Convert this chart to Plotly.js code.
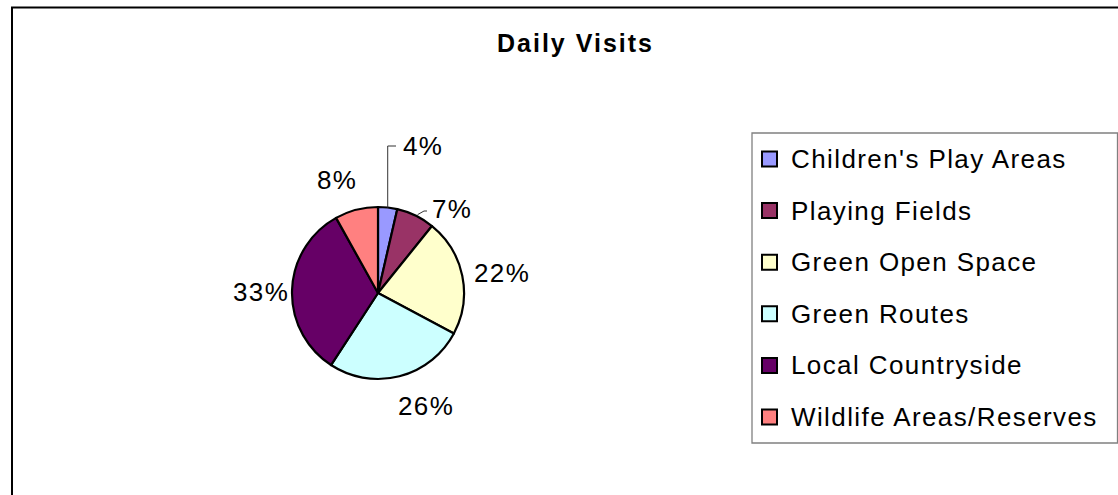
<!DOCTYPE html>
<html>
<head>
<meta charset="utf-8">
<script src="https://cdn.plot.ly/plotly-3.0.1.min.js"></script>
<style>
  body { margin: 0; padding: 0; background: #fff; }
  #chart { width: 1118px; height: 495px; }
  .gtitle { letter-spacing: 2px; }
  .annotation-text { letter-spacing: 1.4px; }
</style>
</head>
<body>
<div id="chart"></div>
<script>
// ---- data ----
const categories = ["Children's Play Areas", "Playing Fields", "Green Open Space", "Green Routes", "Local Countryside", "Wildlife Areas/Reserves"];
const visits = [3.6, 7.2, 22.0, 26.4, 32.7, 8.1];
const sliceColors = ["#9999FF", "#993366", "#FFFFCC", "#CCFFFF", "#660066", "#FF8080"];
const chartTitle = "Daily Visits";

// ---- layout constants (pixels) ----
const W = 1118, H = 495;
const px = x => x / W;
const py = y => 1 - y / H;
const FONT = "Liberation Sans, Arial, sans-serif";
const pieCx = 378, pieCy = 293, pieR = 86;
// label centres as placed in the original chart (pixels)
const labelPos = [[423, 146], [452, 209], [502, 273], [426, 406], [261, 292], [337, 180]];
const hasLeader = [true, true, false, false, false, false];

const total = visits.reduce((a, b) => a + b, 0);

const trace = {
  type: 'pie',
  labels: categories,
  values: visits,
  sort: false,
  direction: 'clockwise',
  rotation: 0,
  marker: { colors: sliceColors, line: { color: '#000000', width: 2.2 } },
  textinfo: 'none',
  domain: { x: [px(pieCx - pieR), px(pieCx + pieR)], y: [py(pieCy + pieR), py(pieCy - pieR)] },
  showlegend: false,
  hoverinfo: 'label+percent'
};

const shapes = [
  // outer chart frame (right/bottom edges fall outside the picture)
  { type: 'rect', xref: 'paper', yref: 'paper', x0: px(12), x1: 1.05, y0: -0.05, y1: py(7.5),
    line: { color: '#000000', width: 2 }, fillcolor: 'rgba(0,0,0,0)', layer: 'below' },
  // legend box
  { type: 'rect', xref: 'paper', yref: 'paper', x0: px(752), x1: px(1117.5), y0: py(443), y1: py(133),
    line: { color: '#808080', width: 1.3 }, fillcolor: 'rgba(0,0,0,0)' }
];
const annotations = [];

// percentage labels + leader lines, computed from the values
let cum = 0;
visits.forEach((v, i) => {
  const mid = (cum + v / 2) / total * 2 * Math.PI;
  cum += v;
  const pct = Math.round(v / total * 100) + '%';
  const [lx, ly] = labelPos[i];
  annotations.push({ xref: 'paper', yref: 'paper', x: px(lx), y: py(ly),
    xanchor: 'center', yanchor: 'middle', showarrow: false, text: pct,
    font: { family: FONT, size: 26, color: '#000000' } });
  if (hasLeader[i]) {
    const ex = pieCx + pieR * Math.sin(mid), ey = pieCy - pieR * Math.cos(mid);
    const left = lx - 22;
    let path;
    if (i === 0) {
      path = `M ${px(ex)} ${py(ey)} L ${px(ex)} ${py(ly)} L ${px(left - 5)} ${py(ly)}`;
    } else {
      path = `M ${px(ex + 2)} ${py(ey - 1)} L ${px(left - 6)} ${py(ly + 2)} L ${px(left - 3)} ${py(ly + 2)}`;
    }
    shapes.push({ type: 'path', xref: 'paper', yref: 'paper', path: path,
      line: { color: '#333333', width: 1 } });
  }
});

// legend built from the arrays
const legTop = 159, legStep = 51.6;
categories.forEach((name, i) => {
  const cy = legTop + i * legStep;
  shapes.push({ type: 'rect', xref: 'paper', yref: 'paper',
    x0: px(762), x1: px(777), y0: py(cy + 7.5), y1: py(cy - 7.5),
    fillcolor: sliceColors[i], line: { color: '#000000', width: 2 } });
  annotations.push({ xref: 'paper', yref: 'paper', x: px(789), y: py(cy),
    xanchor: 'left', yanchor: 'middle', showarrow: false, text: name,
    font: { family: FONT, size: 26, color: '#000000' } });
});

const layout = {
  width: W, height: H,
  margin: { l: 0, r: 0, t: 0, b: 0 },
  paper_bgcolor: '#ffffff',
  title: { text: '<b>' + chartTitle + '</b>', font: { family: FONT, size: 25, color: '#000000' },
           x: px(575.5), xanchor: 'center', y: py(43), yanchor: 'middle', xref: 'container', yref: 'container' },
  showlegend: false,
  shapes: shapes,
  annotations: annotations
};

Plotly.newPlot('chart', [trace], layout, { displayModeBar: false, staticPlot: true });
</script>
</body>
</html>
